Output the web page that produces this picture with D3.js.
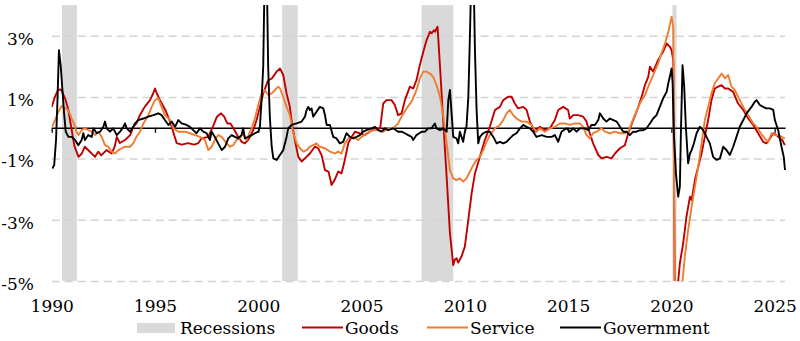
<!DOCTYPE html>
<html><head><meta charset="utf-8">
<script src="https://cdn.jsdelivr.net/npm/d3@7/dist/d3.min.js"></script>
<style>body{margin:0;background:#fff}svg text{font-family:"DejaVu Serif",serif;fill:#000}</style>
</head><body><svg id="c" width="800" height="341"></svg>
<script>
const yTicks = [3, 1, -1, -3, -5];
const xTicks = [1990, 1995, 2000, 2005, 2010, 2015, 2020, 2025];
const recessions = [[1990.5, 1991.22], [2001.16, 2001.91], [2007.91, 2009.44], [2020.05, 2020.25]];
const seriesNames = ["Recessions", "Goods", "Service", "Government"];

const goods = [[1990.0,0.68],[1990.15,1.0],[1990.3,1.23],[1990.45,1.25],[1990.55,1.1],[1990.65,0.95],[1990.8,0.6],[1990.95,0.0],[1991.1,-0.6],[1991.3,-0.95],[1991.45,-0.85],[1991.6,-0.62],[1991.8,-0.75],[1992.1,-0.95],[1992.25,-0.78],[1992.4,-0.9],[1992.65,-0.73],[1992.9,-0.84],[1993.05,-0.62],[1993.15,-0.3],[1993.3,-0.5],[1993.55,-0.4],[1993.8,-0.24],[1993.95,0.03],[1994.1,0.14],[1994.27,0.41],[1994.5,0.68],[1994.76,0.9],[1994.9,1.1],[1995.0,1.28],[1995.1,1.1],[1995.24,0.9],[1995.5,0.58],[1995.73,0.2],[1995.9,-0.18],[1996.05,-0.5],[1996.3,-0.55],[1996.6,-0.5],[1996.9,-0.55],[1997.1,-0.5],[1997.25,-0.35],[1997.58,-0.3],[1997.8,0.03],[1998.0,0.36],[1998.2,0.47],[1998.35,0.36],[1998.5,0.14],[1998.65,0.14],[1998.8,-0.02],[1999.03,-0.3],[1999.2,-0.46],[1999.35,-0.51],[1999.5,-0.4],[1999.6,-0.3],[1999.76,-0.08],[1999.92,0.25],[2000.08,0.68],[2000.24,1.12],[2000.48,1.55],[2000.65,1.6],[2000.89,1.83],[2001.05,1.93],[2001.21,1.72],[2001.37,1.12],[2001.53,0.68],[2001.61,0.25],[2001.77,-0.4],[2001.94,-0.95],[2002.1,-1.1],[2002.26,-1.0],[2002.5,-0.84],[2002.74,-0.62],[2002.9,-0.67],[2003.07,-0.9],[2003.23,-1.38],[2003.4,-1.43],[2003.55,-1.87],[2003.7,-1.7],[2003.87,-1.43],[2004.03,-1.49],[2004.19,-1.05],[2004.36,-0.5],[2004.52,-0.3],[2004.68,-0.13],[2004.9,-0.18],[2005.16,-0.24],[2005.4,-0.13],[2005.65,-0.02],[2005.9,-0.02],[2006.05,0.79],[2006.21,0.9],[2006.45,0.9],[2006.61,0.74],[2006.77,0.41],[2006.94,0.47],[2007.1,0.9],[2007.34,1.34],[2007.5,1.28],[2007.66,1.55],[2007.82,2.04],[2008.0,2.5],[2008.15,2.86],[2008.31,3.13],[2008.4,3.08],[2008.5,3.18],[2008.56,3.13],[2008.63,3.24],[2008.68,3.29],[2008.8,1.99],[2008.96,0.14],[2009.12,-1.6],[2009.28,-3.45],[2009.44,-4.48],[2009.52,-4.3],[2009.6,-4.26],[2009.68,-4.4],[2009.84,-4.2],[2010.0,-3.88],[2010.17,-3.0],[2010.33,-2.14],[2010.49,-1.49],[2010.73,-0.95],[2010.97,-0.4],[2011.21,0.03],[2011.46,0.58],[2011.7,0.68],[2011.86,0.9],[2012.1,1.01],[2012.26,1.01],[2012.42,0.79],[2012.58,0.63],[2012.83,0.68],[2012.99,0.58],[2013.15,0.2],[2013.39,-0.13],[2013.63,0.03],[2013.87,-0.08],[2014.12,-0.02],[2014.36,0.25],[2014.52,0.58],[2014.76,0.68],[2015.0,0.58],[2015.08,0.3],[2015.25,0.41],[2015.49,0.41],[2015.73,0.36],[2015.89,0.2],[2016.05,-0.18],[2016.21,-0.51],[2016.46,-0.89],[2016.62,-1.0],[2016.86,-0.95],[2017.1,-1.0],[2017.27,-0.84],[2017.51,-0.67],[2017.75,-0.57],[2017.91,-0.18],[2018.15,0.25],[2018.4,0.68],[2018.56,1.01],[2018.72,1.39],[2018.88,1.66],[2018.96,1.99],[2019.12,1.83],[2019.36,2.21],[2019.6,2.48],[2019.77,2.75],[2019.93,2.64],[2020.01,2.53],[2020.09,2.21],[2020.17,-6.0],[2020.25,-8.0],[2020.33,-5.0],[2020.41,-4.42],[2020.57,-3.77],[2020.73,-2.9],[2020.9,-2.25],[2020.98,-2.36],[2021.14,-1.7],[2021.3,-1.27],[2021.46,-0.84],[2021.62,-0.29],[2021.78,0.25],[2021.94,0.9],[2022.1,1.28],[2022.27,1.34],[2022.43,1.39],[2022.59,1.28],[2022.75,1.28],[2022.99,1.17],[2023.23,0.79],[2023.48,0.58],[2023.72,0.3],[2023.96,0.09],[2024.2,-0.18],[2024.44,-0.46],[2024.6,-0.51],[2024.77,-0.35],[2024.93,-0.18],[2025.09,-0.24],[2025.25,-0.35],[2025.37,-0.4],[2025.49,-0.57]];

const service = [[1990.0,0.0],[1990.16,0.25],[1990.32,0.52],[1990.48,0.71],[1990.64,0.64],[1990.8,0.58],[1990.97,0.3],[1991.1,0.09],[1991.2,-0.13],[1991.3,-0.24],[1991.45,-0.08],[1991.6,-0.02],[1991.77,-0.08],[1991.94,-0.13],[1992.1,-0.24],[1992.26,-0.13],[1992.42,-0.3],[1992.58,-0.57],[1992.74,-0.62],[1992.9,-0.78],[1993.06,-0.84],[1993.23,-0.73],[1993.39,-0.67],[1993.55,-0.62],[1993.79,-0.62],[1993.95,-0.51],[1994.1,-0.3],[1994.27,-0.13],[1994.44,0.14],[1994.68,0.41],[1994.84,0.68],[1995.0,0.9],[1995.16,0.96],[1995.32,0.68],[1995.48,0.41],[1995.73,0.25],[1995.89,-0.02],[1996.13,-0.13],[1996.45,-0.13],[1996.69,-0.18],[1996.94,-0.24],[1997.18,-0.3],[1997.42,-0.4],[1997.58,-0.73],[1997.74,-0.62],[1997.9,-0.4],[1998.06,-0.24],[1998.23,-0.3],[1998.47,-0.51],[1998.63,-0.62],[1998.79,-0.57],[1998.95,-0.4],[1999.11,-0.35],[1999.27,-0.18],[1999.44,-0.4],[1999.6,-0.13],[1999.68,-0.02],[1999.84,0.3],[2000.0,0.74],[2000.16,1.12],[2000.32,1.23],[2000.48,1.07],[2000.65,1.12],[2000.81,1.23],[2000.97,1.34],[2001.05,1.28],[2001.21,1.01],[2001.37,0.68],[2001.53,0.41],[2001.69,-0.18],[2001.86,-0.51],[2002.02,-0.67],[2002.18,-0.78],[2002.34,-0.73],[2002.5,-0.62],[2002.66,-0.57],[2002.82,-0.51],[2002.98,-0.62],[2003.23,-0.67],[2003.47,-0.78],[2003.71,-0.84],[2003.87,-0.78],[2004.03,-0.84],[2004.19,-0.51],[2004.36,-0.35],[2004.6,-0.3],[2004.84,-0.4],[2005.0,-0.3],[2005.24,-0.18],[2005.4,-0.13],[2005.57,-0.08],[2005.81,-0.08],[2006.05,-0.13],[2006.29,-0.02],[2006.53,-0.02],[2006.77,0.14],[2006.94,0.36],[2007.18,0.63],[2007.42,0.85],[2007.58,1.1],[2007.66,1.23],[2007.82,1.6],[2007.99,1.83],[2008.15,1.83],[2008.31,1.77],[2008.47,1.66],[2008.63,1.39],[2008.8,1.01],[2008.96,0.36],[2009.12,-0.51],[2009.28,-1.38],[2009.44,-1.65],[2009.6,-1.71],[2009.76,-1.65],[2009.92,-1.76],[2010.08,-1.65],[2010.25,-1.43],[2010.41,-1.22],[2010.57,-1.05],[2010.73,-0.95],[2010.89,-0.73],[2011.05,-0.46],[2011.21,-0.24],[2011.46,-0.02],[2011.7,0.09],[2011.86,0.25],[2012.02,0.47],[2012.18,0.58],[2012.34,0.41],[2012.5,0.3],[2012.75,0.2],[2012.99,0.2],[2013.23,0.09],[2013.47,-0.13],[2013.63,-0.02],[2013.88,-0.13],[2014.12,-0.02],[2014.36,0.03],[2014.6,0.14],[2014.84,0.14],[2015.08,0.09],[2015.33,0.14],[2015.57,0.14],[2015.73,0.03],[2015.89,-0.24],[2016.05,-0.35],[2016.21,-0.18],[2016.38,-0.13],[2016.62,-0.02],[2016.78,-0.13],[2017.02,-0.18],[2017.27,-0.13],[2017.51,-0.18],[2017.75,-0.18],[2017.91,-0.13],[2018.07,0.14],[2018.23,0.41],[2018.4,0.68],[2018.56,0.9],[2018.72,1.07],[2018.88,1.34],[2019.12,1.72],[2019.36,2.1],[2019.52,2.42],[2019.69,2.75],[2019.85,3.13],[2020.01,3.62],[2020.09,3.29],[2020.17,-7.0],[2020.33,-12.0],[2020.45,-8.0],[2020.54,-5.0],[2020.65,-4.2],[2020.81,-3.34],[2020.98,-2.58],[2021.14,-1.92],[2021.3,-1.27],[2021.46,-0.51],[2021.62,0.25],[2021.78,0.68],[2021.94,1.12],[2022.1,1.45],[2022.27,1.61],[2022.43,1.77],[2022.59,1.61],[2022.75,1.72],[2022.91,1.34],[2023.07,1.23],[2023.23,1.01],[2023.48,0.68],[2023.72,0.41],[2023.96,0.14],[2024.12,0.03],[2024.28,-0.13],[2024.52,-0.35],[2024.69,-0.46],[2024.85,-0.18],[2025.01,-0.24],[2025.17,-0.24],[2025.33,-0.3],[2025.49,-0.35]];

const government = [[1990.03,-1.33],[1990.12,-1.22],[1990.21,-0.4],[1990.28,0.9],[1990.35,2.53],[1990.44,1.99],[1990.52,1.23],[1990.6,0.47],[1990.68,-0.13],[1990.81,-0.3],[1990.97,-0.3],[1991.13,-0.4],[1991.29,-0.57],[1991.45,-0.4],[1991.53,-0.18],[1991.61,-0.4],[1991.77,-0.24],[1991.94,-0.3],[1992.02,-0.02],[1992.18,-0.18],[1992.34,-0.13],[1992.5,0.03],[1992.58,0.2],[1992.66,-0.02],[1992.82,-0.13],[1992.98,-0.02],[1993.15,-0.24],[1993.31,-0.13],[1993.47,0.03],[1993.55,0.14],[1993.63,-0.02],[1993.79,-0.13],[1993.95,0.03],[1994.03,0.14],[1994.19,0.25],[1994.44,0.3],[1994.68,0.36],[1994.92,0.41],[1995.16,0.47],[1995.32,0.41],[1995.48,0.25],[1995.65,0.09],[1995.81,0.2],[1995.97,0.03],[1996.13,0.25],[1996.29,0.14],[1996.53,0.09],[1996.69,0.03],[1996.85,-0.08],[1997.01,-0.18],[1997.18,-0.02],[1997.34,-0.13],[1997.5,-0.18],[1997.66,-0.4],[1997.74,-0.13],[1997.9,-0.3],[1998.06,-0.51],[1998.23,-0.73],[1998.39,-0.62],[1998.55,-0.35],[1998.71,-0.24],[1998.87,-0.3],[1999.03,-0.35],[1999.19,-0.24],[1999.27,-0.02],[1999.35,-0.35],[1999.52,-0.3],[1999.68,-0.24],[1999.84,-0.18],[2000.0,-0.13],[2000.08,0.03],[2000.16,0.9],[2000.24,1.99],[2000.32,5.5],[2000.4,5.5],[2000.48,1.99],[2000.56,0.36],[2000.65,-0.62],[2000.73,-1.0],[2000.89,-1.05],[2001.05,-0.89],[2001.21,-0.73],[2001.37,-0.3],[2001.45,-0.02],[2001.61,0.09],[2001.86,0.14],[2002.1,0.2],[2002.26,0.36],[2002.34,0.58],[2002.42,0.68],[2002.5,0.58],[2002.58,0.63],[2002.66,0.36],[2002.82,0.52],[2002.98,0.68],[2003.15,0.63],[2003.23,0.41],[2003.31,0.09],[2003.47,0.09],[2003.63,-0.3],[2003.79,-0.35],[2003.95,-0.51],[2004.11,-0.46],[2004.27,-0.18],[2004.44,-0.3],[2004.6,-0.35],[2004.76,-0.3],[2004.92,-0.24],[2005.08,-0.13],[2005.24,-0.08],[2005.49,-0.02],[2005.65,0.03],[2005.81,-0.08],[2005.97,-0.13],[2006.13,-0.02],[2006.29,-0.08],[2006.53,-0.02],[2006.77,-0.13],[2006.94,-0.13],[2007.1,-0.18],[2007.26,-0.24],[2007.42,-0.3],[2007.5,-0.4],[2007.66,-0.24],[2007.91,-0.13],[2008.07,-0.13],[2008.23,-0.02],[2008.39,-0.02],[2008.55,0.14],[2008.63,-0.02],[2008.8,-0.08],[2008.96,-0.02],[2009.12,-0.13],[2009.2,0.9],[2009.28,1.23],[2009.36,0.47],[2009.44,-0.3],[2009.6,-0.35],[2009.68,-0.51],[2009.76,-0.13],[2009.84,-0.3],[2009.92,-0.46],[2010.0,-0.13],[2010.08,0.03],[2010.17,1.01],[2010.25,3.08],[2010.33,5.5],[2010.41,5.5],[2010.49,2.53],[2010.57,0.58],[2010.65,-0.51],[2010.73,-0.3],[2010.89,-0.18],[2011.05,-0.13],[2011.21,-0.13],[2011.38,-0.3],[2011.54,-0.51],[2011.7,-0.46],[2011.86,-0.51],[2012.02,-0.46],[2012.18,-0.35],[2012.34,-0.24],[2012.5,-0.18],[2012.67,-0.02],[2012.83,0.09],[2012.99,0.03],[2013.15,-0.02],[2013.31,-0.13],[2013.47,-0.3],[2013.72,-0.24],[2013.96,-0.3],[2014.2,-0.3],[2014.36,-0.24],[2014.52,-0.46],[2014.68,-0.13],[2014.92,-0.02],[2015.08,-0.13],[2015.25,-0.02],[2015.41,-0.13],[2015.57,-0.02],[2015.81,-0.02],[2015.97,-0.08],[2016.13,0.09],[2016.3,0.09],[2016.46,0.25],[2016.54,0.47],[2016.7,0.3],[2016.86,0.2],[2017.02,0.3],[2017.19,0.25],[2017.35,0.2],[2017.51,0.03],[2017.67,-0.13],[2017.83,-0.13],[2017.99,-0.24],[2018.15,-0.13],[2018.31,-0.13],[2018.48,-0.08],[2018.64,-0.08],[2018.8,-0.02],[2018.96,0.14],[2019.12,0.3],[2019.28,0.41],[2019.44,0.68],[2019.6,0.96],[2019.77,1.17],[2019.85,1.45],[2019.96,1.77],[2020.01,1.93],[2020.06,1.45],[2020.12,-0.18],[2020.22,-1.49],[2020.33,-2.25],[2020.41,-1.92],[2020.46,-0.18],[2020.54,2.04],[2020.62,1.34],[2020.7,0.03],[2020.81,-1.16],[2020.9,-0.84],[2020.98,-0.73],[2021.09,-0.51],[2021.22,-0.18],[2021.38,0.03],[2021.54,-0.08],[2021.7,-0.3],[2021.86,-0.51],[2022.02,-0.95],[2022.19,-1.05],[2022.35,-1.0],[2022.51,-0.62],[2022.67,-0.73],[2022.83,-0.89],[2022.99,-0.62],[2023.15,-0.3],[2023.31,0.03],[2023.48,0.25],[2023.64,0.47],[2023.88,0.68],[2024.04,0.85],[2024.12,0.9],[2024.28,0.74],[2024.44,0.68],[2024.6,0.63],[2024.77,0.63],[2024.93,0.58],[2025.01,0.25],[2025.17,-0.08],[2025.33,-0.62],[2025.44,-0.95],[2025.5,-1.38]];

const colors = {goods: "#c00000", service: "#ed7d31", government: "#000000", recession: "#d9d9d9"};

const svg = d3.select("#c");
const L = 51.7, R = 785, T = 5.1, B = 281;
const x = d3.scaleLinear().domain([1990, 2025.5]).range([L, R]);
const y = d3.scaleLinear().domain([-5, 4]).range([B, T]);

svg.append("defs").append("clipPath").attr("id", "clip")
  .append("rect").attr("x", L).attr("y", T).attr("width", R - L + 2).attr("height", B - T);

// recession bands
svg.append("g").selectAll("rect").data(recessions).join("rect")
  .attr("x", d => x(d[0])).attr("width", d => x(d[1]) - x(d[0]))
  .attr("y", T).attr("height", B - T).attr("fill", colors.recession);

// grid (dashed) via axis
const grid = svg.append("g").attr("transform", `translate(${L},0)`)
  .call(d3.axisLeft(y).tickValues(yTicks).tickSize(-(R - L)).tickFormat(""));
grid.select(".domain").remove();
grid.selectAll("line").attr("stroke", "#d3d3d3").attr("stroke-width", 1.5).attr("stroke-dasharray", "8,5");

// y labels
const yl = svg.append("g").attr("transform", `translate(34,0)`)
  .call(d3.axisLeft(y).tickValues(yTicks).tickSize(0).tickPadding(0).tickFormat(d => d + "%"));
yl.select(".domain").remove();
yl.selectAll("text").attr("font-size", 17).attr("font-family", "DejaVu Serif").attr("dy", "0.5em").attr("fill", "#000");

// zero axis with ticks
const za = svg.append("g").attr("transform", `translate(0,${y(0)})`)
  .call(d3.axisBottom(x).tickValues(xTicks).tickSize(5).tickSizeOuter(0).tickFormat(""));
za.select(".domain").attr("stroke", "#000").attr("stroke-width", 1.6);
za.selectAll(".tick line").attr("stroke", "#000").attr("stroke-width", 1.3);

// x labels
const xl = svg.append("g").attr("transform", `translate(0,${B})`)
  .call(d3.axisBottom(x).tickValues(xTicks).tickSize(0).tickPadding(0).tickFormat(d3.format("d")));
xl.select(".domain").remove();
xl.selectAll("text").attr("font-size", 17).attr("font-family", "DejaVu Serif").attr("dy", "1.85em").attr("y", 0).attr("fill", "#000");

// series
const line = d3.line().x(d => x(d[0])).y(d => y(d[1]));
const lg = svg.append("g").attr("clip-path", "url(#clip)");
[[goods, colors.goods], [service, colors.service], [government, colors.government]].forEach(([data, c]) => {
  lg.append("path").datum(data).attr("d", line).attr("fill", "none")
    .attr("stroke", c).attr("stroke-width", 1.9).attr("stroke-linejoin", "round");
});

// legend
const leg = svg.append("g").attr("font-size", 17);
leg.append("rect").attr("x", 137).attr("y", 323).attr("width", 38).attr("height", 10).attr("fill", colors.recession);
leg.append("text").attr("x", 180).attr("y", 334).text(seriesNames[0]);
[[302, 345, colors.goods, seriesNames[1]], [427, 470, colors.service, seriesNames[2]], [560, 603, colors.government, seriesNames[3]]].forEach(([lx, tx, c, n]) => {
  leg.append("line").attr("x1", lx).attr("x2", lx + 41).attr("y1", 327.5).attr("y2", 327.5).attr("stroke", c).attr("stroke-width", 1.9);
  leg.append("text").attr("x", tx).attr("y", 334).text(n);
});
</script></body></html>
